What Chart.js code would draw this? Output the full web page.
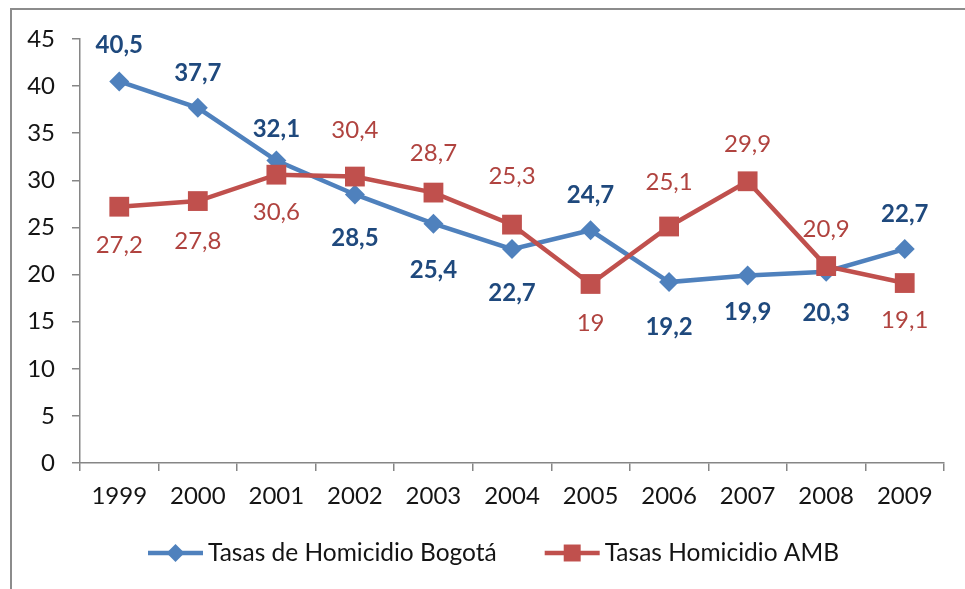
<!DOCTYPE html>
<html>
<head>
<meta charset="utf-8">
<script src="https://cdn.jsdelivr.net/npm/chart.js@4.4.0/dist/chart.umd.min.js"></script>
<style>
  html, body { margin: 0; padding: 0; background: #fff; overflow: hidden; }
  #wrap { position: relative; width: 965px; height: 589px; overflow: hidden; }
  #frame { position: absolute; left: 10px; top: 8px; width: 1000px; height: 1000px; border: 2px solid #8c8c8c; }
  canvas { position: absolute; left: 0; top: 0; }
</style>
</head>
<body>
<div id="wrap">
  <div id="frame"></div>
  <canvas id="homicidioChart" width="965" height="589"></canvas>
</div>
<script>
// data
const years = ['1999', '2000', '2001', '2002', '2003', '2004', '2005', '2006', '2007', '2008', '2009'];
const bogota = [40.5, 37.7, 32.1, 28.5, 25.4, 22.7, 24.7, 19.2, 19.9, 20.3, 22.7];
const amb = [27.2, 27.8, 30.6, 30.4, 28.7, 25.3, 19, 25.1, 29.9, 20.9, 19.1];
const yTicks = [0, 5, 10, 15, 20, 25, 30, 35, 40, 45];
const seriesNames = ['Tasas de Homicidio Bogotá', 'Tasas Homicidio AMB'];

// where each data label sits relative to its point (px, minus = above)
const bogotaLabelDy = [-36, -35, -31, 44, 47, 44, -35, 45, 37, 42, -35];
const ambLabelDy = [39, 40, 38, -46, -39, -48, 39, -44, -37, -37, 37];

const BLUE = '#4F81BD';
const RED = '#C0504D';
const AXIS = '#868686';

Chart.defaults.font.family = 'Lato';
Chart.defaults.color = '#141414';

const fmt = v => String(v).replace('.', ',');

// draws the value labels next to each point
const valueLabels = {
  id: 'valueLabels',
  afterDatasetsDraw(chart) {
    const ctx = chart.ctx;
    const styles = [
      { dy: bogotaLabelDy, color: '#1F497D', weight: 'bold' },
      { dy: ambLabelDy, color: '#B0433F', weight: 'normal' }
    ];
    ctx.save();
    ctx.textAlign = 'center';
    ctx.textBaseline = 'middle';
    chart.data.datasets.forEach((ds, i) => {
      const meta = chart.getDatasetMeta(i);
      const st = styles[i];
      ctx.font = st.weight + ' 24px Lato';
      ctx.fillStyle = st.color;
      meta.data.forEach((pt, j) => {
        ctx.fillText(fmt(ds.data[j]), pt.x, pt.y + st.dy[j]);
      });
    });
    ctx.restore();
  }
};

// excel-like legend: line with the marker in the middle
const lineLegend = {
  id: 'lineLegend',
  afterDraw(chart) {
    const ctx = chart.ctx;
    const y = 553;
    let x = 148;
    ctx.save();
    ctx.font = '24.5px Lato';
    ctx.textBaseline = 'middle';
    chart.data.datasets.forEach((ds, i) => {
      ctx.strokeStyle = ds.borderColor;
      ctx.lineWidth = ds.borderWidth;
      ctx.beginPath();
      ctx.moveTo(x, y);
      ctx.lineTo(x + 55, y);
      ctx.stroke();
      ctx.fillStyle = ds.backgroundColor;
      Chart.helpers.drawPoint(ctx, {
        pointStyle: ds.pointStyle,
        radius: i === 0 ? 9 : 12,
        rotation: 0,
        borderWidth: 0
      }, x + 27.5, y);
      ctx.fillStyle = '#141414';
      ctx.fillText(ds.label, x + 60, y);
      x += 60 + ctx.measureText(ds.label).width + 48;
    });
    ctx.restore();
  }
};

const ctx = document.getElementById('homicidioChart').getContext('2d');
const chart = new Chart(ctx, {
  type: 'line',
  data: {
    labels: years,
    datasets: [
      {
        label: seriesNames[0],
        data: bogota,
        borderColor: BLUE,
        backgroundColor: BLUE,
        borderWidth: 4.5,
        pointStyle: 'rectRot',
        pointRadius: 10,
        pointBorderWidth: 0,
        tension: 0,
        order: 1
      },
      {
        label: seriesNames[1],
        data: amb,
        borderColor: RED,
        backgroundColor: RED,
        borderWidth: 4.5,
        pointStyle: 'rect',
        pointRadius: 14,
        pointBorderWidth: 0,
        tension: 0,
        order: 0
      }
    ]
  },
  options: {
    responsive: false,
    animation: false,
    layout: { padding: { left: 0, right: 21, top: 39, bottom: 0 } },
    plugins: {
      legend: { display: false },
      tooltip: { enabled: false }
    },
    scales: {
      x: {
        offset: true,
        grid: {
          offset: true,
          drawOnChartArea: false,
          drawTicks: true,
          tickLength: 8,
          color: AXIS,
          lineWidth: 1.5
        },
        border: { color: AXIS, width: 1.5 },
        ticks: { font: { size: 24 }, padding: 11, maxRotation: 0 },
        afterFit(scale) { scale.height = 126; }
      },
      y: {
        min: 0,
        max: 45,
        afterBuildTicks(scale) { scale.ticks = yTicks.map(v => ({ value: v })); },
        grid: {
          drawOnChartArea: false,
          drawTicks: true,
          tickLength: 8,
          color: AXIS,
          lineWidth: 1.5
        },
        border: { color: AXIS, width: 1.5 },
        ticks: { font: { size: 24 }, padding: 17 },
        afterFit(scale) { scale.width = 80; }
      }
    }
  },
  plugins: [valueLabels, lineLegend]
});
</script>
</body>
</html>
